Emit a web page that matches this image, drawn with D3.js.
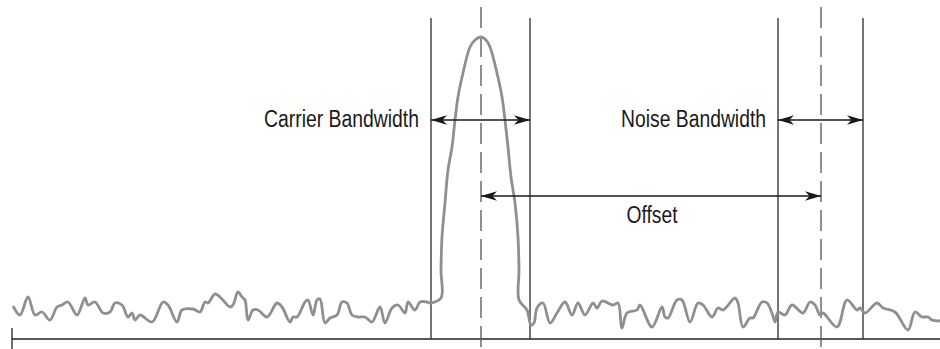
<!DOCTYPE html>
<html>
<head>
<meta charset="utf-8">
<script src="https://cdn.jsdelivr.net/npm/d3@7"></script>
<style>
  body { margin: 0; background: #fff; }
  text { font-family: "Liberation Sans", Arial, sans-serif; fill: #1a1a1a; }
</style>
</head>
<body>
<svg id="svg"></svg>
<script>
  // spectrum trace (frequency offset, level above the floor line)
  const traceFreq = [1, 8, 16, 23, 30, 38, 45, 50, 56, 65, 73, 76, 83, 91, 98, 103, 110, 116, 120, 123,
    128, 140, 151, 156, 165, 170, 181, 188, 193, 196, 203, 208, 218, 221, 226, 230, 233, 236, 241, 246,
    255, 265, 270, 278, 281, 285, 293, 296, 301, 305, 308, 313, 318, 325, 330, 335, 340, 346, 353, 360,
    368, 373, 380, 386, 393, 396, 403, 408, 415, 418, 429, 429, 430, 433, 436, 440, 443, 446, 451, 458,
    463, 469, 474, 478, 485, 490, 493, 496, 499, 503, 506, 507, 507, 515, 519, 522, 525, 531, 538, 545,
    553, 560, 566, 573, 581, 585, 590, 601, 606, 610, 615, 625, 628, 640, 650, 653, 656, 665, 670, 678,
    686, 691, 700, 706, 711, 723, 726, 731, 738, 741, 750, 755, 760, 763, 766, 773, 780, 791, 798, 803,
    808, 811, 825, 835, 845, 848, 853, 865, 871, 883, 896, 903, 910, 916, 920, 928];
  const traceLevel = [33, 24, 42, 24, 27, 19, 32, 34, 37, 24, 41, 34, 37, 26, 27, 36, 34, 22, 26, 19,
    24, 17, 37, 34, 17, 29, 30, 27, 37, 36, 45, 42, 32, 34, 47, 42, 39, 19, 29, 29,
    22, 36, 32, 17, 22, 22, 37, 39, 24, 39, 40, 16, 21, 24, 37, 36, 24, 22, 22, 17,
    32, 16, 31, 34, 26, 37, 29, 37, 37, 36, 41, 69, 102, 136, 169, 192, 219, 242, 266, 292,
    299, 302, 299, 292, 266, 242, 219, 192, 162, 136, 102, 69, 39, 29, 14, 16, 31, 36, 16, 26,
    37, 24, 36, 24, 36, 31, 38, 34, 36, 11, 26, 29, 34, 12, 32, 22, 21, 39, 39, 17,
    36, 34, 22, 31, 29, 41, 36, 12, 21, 21, 37, 36, 26, 17, 27, 24, 34, 26, 37, 34,
    24, 26, 12, 39, 29, 31, 26, 36, 31, 27, 9, 27, 22, 22, 19, 18];

  // band edges and centres (same frequency units)
  const bandEdges = [419, 518, 766, 851];
  const centres = [469, 809];
  const arrows = [
    { label: "Carrier Bandwidth", from: 419, to: 518, y: 120, side: "left" },
    { label: "Noise Bandwidth", from: 766, to: 851, y: 120, side: "left" },
    { label: "Offset", from: 469, to: 809, y: 196, side: "below" }
  ];

  const width = 940;
  const height = 349;
  const floorY = 339;

  const svg = d3.select("#svg")
      .attr("width", width)
      .attr("height", height);

  const xScale = d3.scaleLinear()
      .domain([0, 928])
      .range([12, 940]);

  const yScale = d3.scaleLinear()
      .domain([0, 301])
      .range([floorY, 38]);

  svg.append("defs").append("marker")
      .attr("id", "head")
      .attr("viewBox", "-17 -6 18 12")
      .attr("refX", 0)
      .attr("refY", 0)
      .attr("markerUnits", "userSpaceOnUse")
      .attr("markerWidth", 18)
      .attr("markerHeight", 12)
      .attr("orient", "auto-start-reverse")
    .append("path")
      .attr("d", "M0,0L-16,-4.8L-11.5,0L-16,4.8Z")
      .attr("fill", "#1a1a1a");

  // floor line with the small tick at the left
  svg.append("line")
      .attr("x1", xScale(0)).attr("x2", width)
      .attr("y1", floorY).attr("y2", floorY)
      .attr("stroke", "#222").attr("stroke-width", 1.3);
  svg.append("line")
      .attr("x1", xScale(0)).attr("x2", xScale(0))
      .attr("y1", 328).attr("y2", height)
      .attr("stroke", "#222").attr("stroke-width", 1.3);

  // band edges
  svg.selectAll(".edge")
      .data(bandEdges)
      .enter().append("line")
      .attr("class", "edge")
      .attr("x1", d => xScale(d)).attr("x2", d => xScale(d))
      .attr("y1", 18).attr("y2", floorY)
      .attr("stroke", "#2a2a2a").attr("stroke-width", 1.3);

  // centre lines
  svg.selectAll(".centre")
      .data(centres)
      .enter().append("line")
      .attr("class", "centre")
      .attr("x1", d => xScale(d)).attr("x2", d => xScale(d))
      .attr("y1", 7).attr("y2", height)
      .attr("stroke", "#555").attr("stroke-width", 1.3)
      .attr("stroke-dasharray", "21,8");

  const trace = traceFreq.map((f, i) => ({ f: f, v: traceLevel[i] }));

  svg.append("path")
      .datum(trace)
      .attr("fill", "none")
      .attr("stroke", "#8f8f8f")
      .attr("stroke-width", 2.8)
      .attr("stroke-linejoin", "round")
      .attr("d", d3.line()
        .x(d => xScale(d.f))
        .y(d => yScale(d.v))
        .curve(d3.curveCatmullRom.alpha(0.5))
      );

  // dimension arrows
  svg.selectAll(".dim")
      .data(arrows)
      .enter().append("line")
      .attr("class", "dim")
      .attr("x1", d => xScale(d.from)).attr("x2", d => xScale(d.to))
      .attr("y1", d => d.y).attr("y2", d => d.y)
      .attr("stroke", "#1a1a1a").attr("stroke-width", 1.5)
      .attr("marker-start", "url(#head)")
      .attr("marker-end", "url(#head)");

  const labelWidths = { "Carrier Bandwidth": 155, "Noise Bandwidth": 145, "Offset": 51 };

  svg.selectAll(".label")
      .data(arrows)
      .enter().append("text")
      .attr("class", "label")
      .attr("x", d => d.side === "left" ? xScale(d.from) - 12 : (xScale(d.from) + xScale(d.to)) / 2 + 1)
      .attr("y", d => d.side === "left" ? d.y + 7 : d.y + 27)
      .attr("text-anchor", d => d.side === "left" ? "end" : "middle")
      .attr("font-size", 23)
      .attr("textLength", d => labelWidths[d.label])
      .attr("lengthAdjust", "spacingAndGlyphs")
      .text(d => d.label);
</script>
</body>
</html>
